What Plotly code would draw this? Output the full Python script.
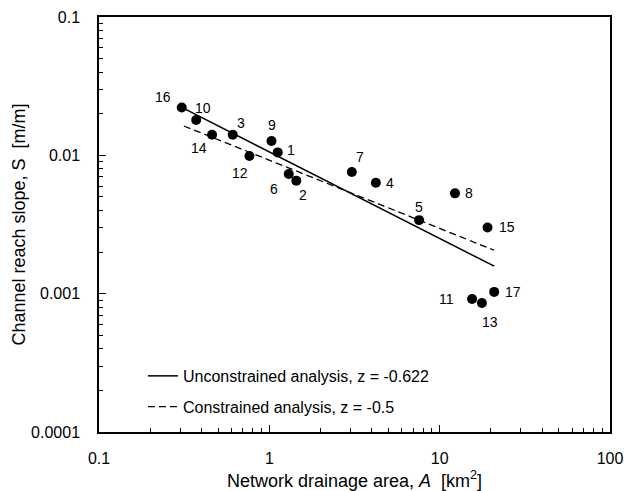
import numpy as np
import plotly.graph_objects as go

# Reach data (network drainage area km^2, channel reach slope m/m)
reach_ids = ["16", "10", "14", "3", "12", "9", "1", "6", "2", "7", "4", "5", "8", "15", "11", "13", "17"]
area_km2 = [0.306, 0.372, 0.461, 0.610, 0.764, 1.03, 1.12, 1.30, 1.44, 3.05, 4.22, 7.57, 12.3, 19.1, 15.5, 17.7, 20.9]
slope = [0.0222, 0.0180, 0.0141, 0.0141, 0.00989, 0.01268, 0.0105, 0.00733, 0.00656, 0.00757, 0.00633, 0.0034, 0.00531, 0.00301, 0.000914, 0.000855, 0.00103]
# label offsets (pixels, right / down)
label_dx = [-19, 7, -13, 8, -9, 0, 13, -15, 7, 8, 14, 0, 14, 19, -26, 8, 19]
label_dy = [-10, -12, 13, -12, 17, -16, -2, 15, 14, -15, 0, -13, 0, 0, 0, 19, 0]

# Fitted lines (end points)
unc_x = [0.306, 20.9]
unc_y = [0.0222, 0.00158]
con_x = [0.315, 20.9]
con_y = [0.0163, 0.00206]

xtick_vals = [0.1, 1, 10, 100]
xtick_text = ["0.1", "1", "10", "100"]
ytick_vals = [0.0001, 0.001, 0.01, 0.1]
ytick_text = ["0.0001", "0.001", "0.01", "0.1"]

FONT = "Liberation Sans, Arial, sans-serif"

fig = go.Figure()
fig.add_trace(go.Scatter(
    x=unc_x, y=unc_y, mode="lines", line=dict(color="black", width=1.5),
    name="Unconstrained analysis, z = -0.622", legendgroup="a"))
fig.add_trace(go.Scatter(
    x=con_x, y=con_y, mode="lines", line=dict(color="black", width=1.3, dash="7px,4px"),
    name="Constrained analysis, z = -0.5", legendgroup="b"))
fig.add_trace(go.Scatter(
    x=area_km2, y=slope, mode="markers", marker=dict(color="black", size=10),
    showlegend=False))

# annotations on log axes are positioned in log10 units
for xi, yi, t, dx, dy in zip(area_km2, slope, reach_ids, label_dx, label_dy):
    fig.add_annotation(x=np.log10(xi), y=np.log10(yi), text=t, showarrow=False,
                       xshift=dx, yshift=-dy, xref="x", yref="y",
                       font=dict(size=14, color="black", family=FONT))

axis_common = dict(
    type="log", showgrid=False, zeroline=False, showline=True, linecolor="black",
    linewidth=1.5, mirror=True, ticks="inside", ticklen=7, tickwidth=1.2, tickcolor="black",
    tickfont=dict(size=16, color="black", family=FONT), automargin=False,
    minor=dict(ticks="inside", ticklen=4, tickwidth=1, tickcolor="black", dtick="D1", showgrid=False),
)

fig.update_xaxes(range=[-1, 2], tickvals=xtick_vals, ticktext=xtick_text,
                 title=dict(text="Network drainage area, <i>A</i>  [km<sup>2</sup>]",
                            font=dict(size=18, color="black", family=FONT), standoff=15),
                 ticklabelstandoff=11, **axis_common)
fig.update_yaxes(range=[-4, -1], tickvals=ytick_vals, ticktext=ytick_text,
                 title=dict(text="Channel reach slope, S  [m/m]",
                            font=dict(size=18, color="black", family=FONT), standoff=1),
                 ticklabelstandoff=14, **axis_common)

fig.update_layout(
    width=628, height=491,
    margin=dict(l=99, r=18, t=17, b=59),
    paper_bgcolor="white", plot_bgcolor="white",
    font=dict(family=FONT, color="black"),
    legend=dict(x=0.086, y=0.176, xanchor="left", yanchor="top", bgcolor="rgba(0,0,0,0)",
                font=dict(size=16, color="black", family=FONT), tracegroupgap=7,
                traceorder="grouped"),
)

fig.write_html("out.html")
